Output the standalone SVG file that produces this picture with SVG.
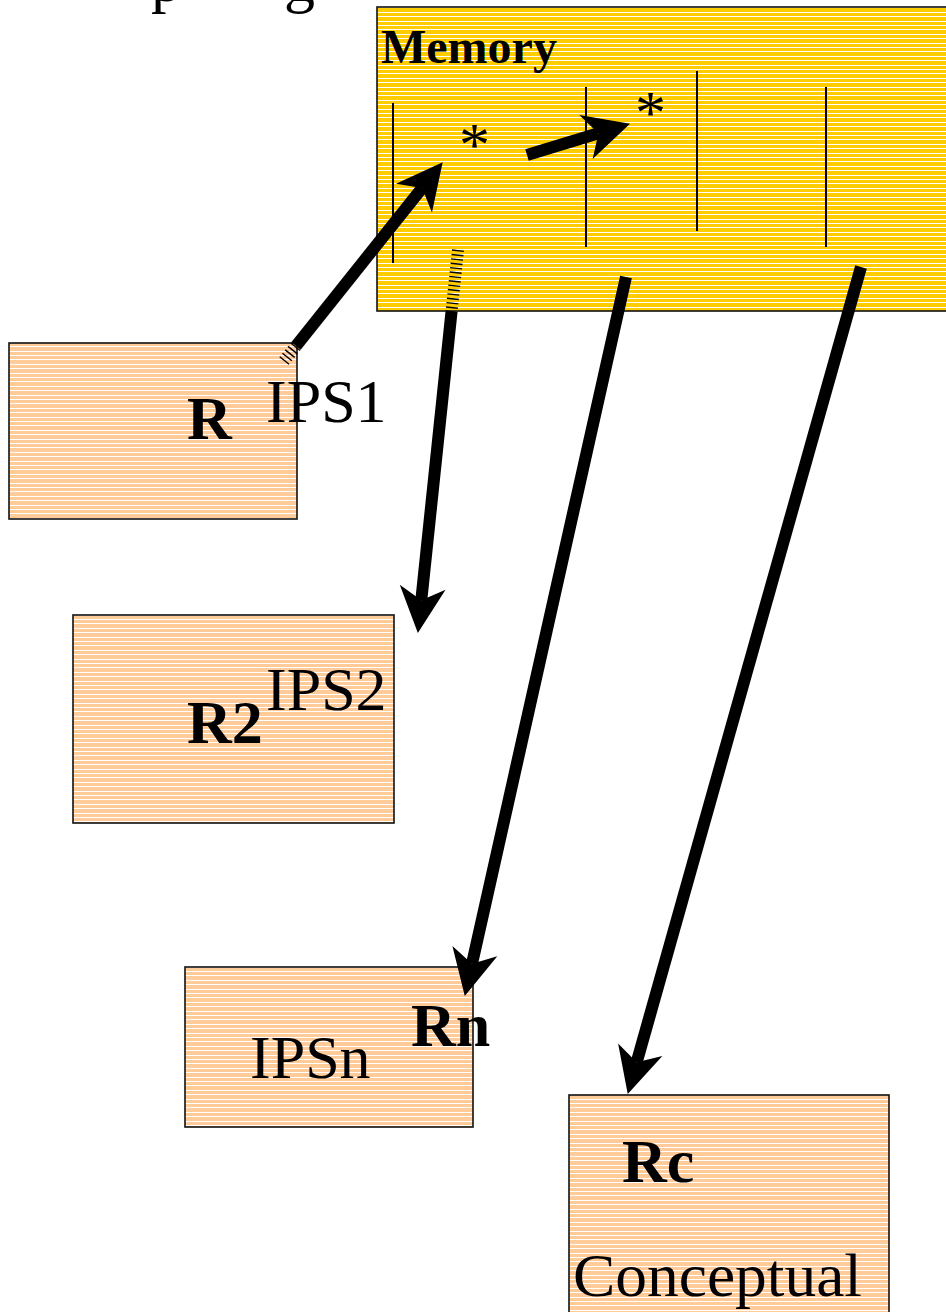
<svg xmlns="http://www.w3.org/2000/svg" width="946" height="1312" viewBox="0 0 946 1312">
  <style>
    .box { stroke: #111; stroke-width: 1.6; }
    .mem { fill: url(#stripesYellow); }
    .rep { fill: url(#stripesOrange); }
    .lbl { font-family: "Liberation Serif", "Times New Roman", serif; font-size: 62px; fill: #000; }
    .bold { font-weight: bold; }
    .title { font-size: 48px; }
    .slot { stroke: #000; stroke-width: 2; }
    .shaft { stroke: #000; stroke-width: 12; fill: none; marker-end: url(#head); }
    .hatch { stroke: #000; stroke-width: 12; fill: none; stroke-dasharray: 1.4 3; }
  </style>
  <defs>
    <!-- horizontal hatch fills: white rules on a 4/5 px rhythm -->
    <pattern id="stripesYellow" patternUnits="userSpaceOnUse" width="20" height="22">
      <rect width="20" height="22" fill="#FFCC00"/>
      <g fill="#FFFFFF" shape-rendering="crispEdges">
        <rect y="3" width="20" height="1"/>
        <rect y="7" width="20" height="1"/>
        <rect y="12" width="20" height="1"/>
        <rect y="16" width="20" height="1"/>
        <rect y="21" width="20" height="1"/>
      </g>
    </pattern>
    <pattern id="stripesOrange" patternUnits="userSpaceOnUse" width="20" height="22">
      <rect width="20" height="22" fill="#FFCC99"/>
      <g fill="#FFFFFF" shape-rendering="crispEdges">
        <rect y="3" width="20" height="1"/>
        <rect y="7" width="20" height="1"/>
        <rect y="12" width="20" height="1"/>
        <rect y="16" width="20" height="1"/>
        <rect y="21" width="20" height="1"/>
      </g>
    </pattern>
    <marker id="head" markerUnits="userSpaceOnUse" viewBox="-20 -30 60 60" refX="0" refY="0" markerWidth="60" markerHeight="60" orient="auto" overflow="visible">
      <path d="M33,0 L-13,-23 L0,0 L-13,23 Z" fill="#000"/>
    </marker>
  </defs>

  <!-- descenders of the heading line above the frame -->
  <text class="lbl" x="151" y="1">p</text>
  <text class="lbl" x="284" y="1">g</text>

  <g id="memory">
    <rect class="box mem" x="377" y="7" width="580" height="304"/>
    <text class="lbl bold title" x="381" y="63">Memory</text>
    <line class="slot" x1="393" y1="103" x2="393" y2="263"/>
    <line class="slot" x1="586" y1="87" x2="586" y2="247"/>
    <line class="slot" x1="697" y1="71" x2="697" y2="231"/>
    <line class="slot" x1="826" y1="87" x2="826" y2="247"/>
    <text class="lbl" x="459" y="165">*</text>
    <text class="lbl" x="635" y="133">*</text>
  </g>

  <g id="r-ips1">
    <rect class="box rep" x="9" y="343" width="288" height="176"/>
    <text class="lbl bold" x="187" y="439">R</text>
    <text class="lbl" x="266" y="422">IPS1</text>
  </g>

  <g id="r2-ips2">
    <rect class="box rep" x="73" y="615" width="321" height="208"/>
    <text class="lbl bold" x="187" y="743">R2</text>
    <text class="lbl" x="266" y="710">IPS2</text>
  </g>

  <g id="rn-ipsn">
    <rect class="box rep" x="185" y="967" width="288" height="160"/>
    <text class="lbl" x="250" y="1078">IPSn</text>
    <text class="lbl bold" x="411" y="1046">Rn</text>
  </g>

  <g id="rc-conceptual">
    <rect class="box rep" x="569" y="1095" width="320" height="230"/>
    <text class="lbl bold" x="622" y="1182">Rc</text>
    <text class="lbl" x="573" y="1296" textLength="289" lengthAdjust="spacingAndGlyphs">Conceptual</text>
  </g>

  <g id="connectors">
    <!-- R to first memory cell -->
    <line class="hatch" x1="284" y1="361" x2="296" y2="346"/>
    <line class="shaft" x1="296" y1="346" x2="422.1" y2="188"/>
    <!-- cell to cell -->
    <line class="shaft" x1="527" y1="155" x2="598.4" y2="133.3"/>
    <!-- memory to R2 -->
    <line class="hatch" x1="458" y1="250" x2="451.6" y2="311"/>
    <line class="shaft" x1="451.6" y1="311" x2="421.3" y2="600.2"/>
    <!-- memory to Rn -->
    <line class="shaft" x1="626" y1="277" x2="472" y2="963.8"/>
    <!-- memory to Rc -->
    <line class="shaft" x1="861" y1="267" x2="636.7" y2="1062.2"/>
  </g>
</svg>
